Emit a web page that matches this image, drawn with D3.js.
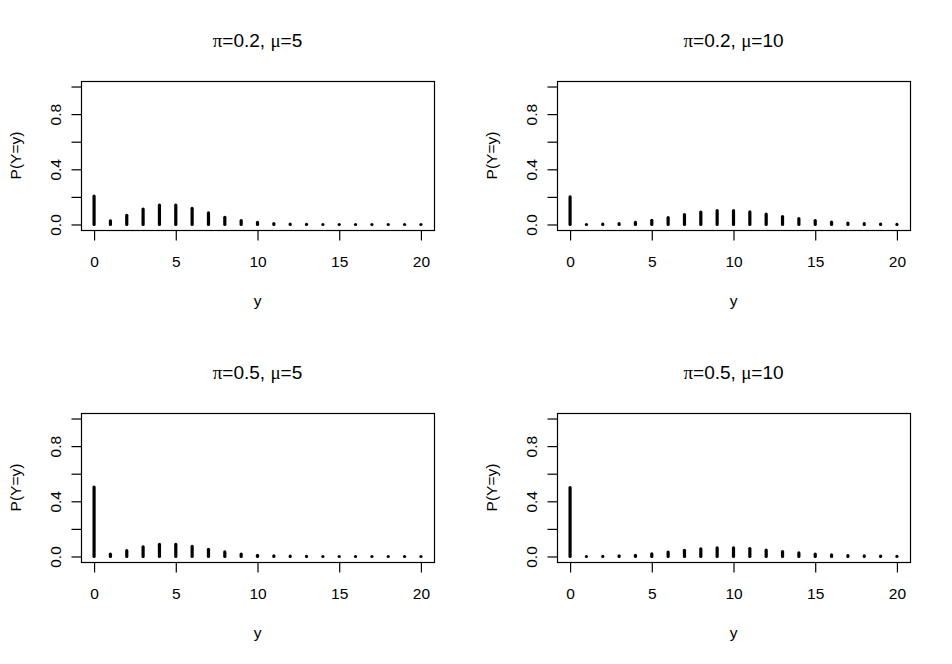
<!DOCTYPE html>
<html>
<head>
<meta charset="utf-8">
<script src="https://cdn.jsdelivr.net/npm/d3@7"></script>
<style>
  body { margin: 0; background: #fff; }
  text { font-family: "Liberation Sans", Arial, sans-serif; fill: #000; }
</style>
</head>
<body>
<svg id="chart" width="952" height="664"></svg>
<script>
// counts on the x axis
const counts = [0, 1, 2, 3, 4, 5, 6, 7, 8, 9, 10, 11, 12, 13, 14, 15, 16, 17, 18, 19, 20];

// panel parameters (row by row)
const piLabels = ["0.2", "0.2", "0.5", "0.5"];
const muLabels = ["5", "10", "5", "10"];

// probabilities
const pi02mu5  = [0.205, 0.027, 0.067, 0.112, 0.140, 0.140, 0.117, 0.084, 0.052, 0.029, 0.015, 0.007, 0.003, 0.001, 0.000, 0.000, 0.000, 0.000, 0.000, 0.000, 0.000];
const pi02mu10 = [0.200, 0.000, 0.002, 0.006, 0.015, 0.030, 0.050, 0.072, 0.090, 0.100, 0.100, 0.091, 0.076, 0.058, 0.042, 0.028, 0.017, 0.010, 0.006, 0.003, 0.001];
const pi05mu5  = [0.503, 0.017, 0.042, 0.070, 0.088, 0.088, 0.073, 0.052, 0.033, 0.018, 0.009, 0.004, 0.002, 0.001, 0.000, 0.000, 0.000, 0.000, 0.000, 0.000, 0.000];
const pi05mu10 = [0.500, 0.000, 0.001, 0.004, 0.009, 0.019, 0.032, 0.045, 0.056, 0.063, 0.063, 0.057, 0.047, 0.036, 0.026, 0.017, 0.011, 0.006, 0.004, 0.002, 0.001];

const xTicks = [0, 5, 10, 15, 20];
const yTicks = [0, 0.2, 0.4, 0.6, 0.8, 1.0];
const yTickLabels = ["0.0", "", "0.4", "", "0.8", ""];

const series = [pi02mu5, pi02mu10, pi05mu5, pi05mu10];

const cellW = 476, cellH = 332;
const margin = {left: 81, top: 81, right: 42, bottom: 102};
const w = cellW - margin.left - margin.right;
const h = cellH - margin.top - margin.bottom;

// R style: 4% padding around the data range
const x = d3.scaleLinear().domain([-0.8, 20.8]).range([0, w]);
const y = d3.scaleLinear().domain([-0.04, 1.04]).range([h, 0]);

const svg = d3.select("#chart");
const labelSize = "15.5px";

series.forEach((vals, i) => {
  const col = i % 2, row = Math.floor(i / 2);
  const g = svg.append("g")
    .attr("transform", `translate(${col * cellW + margin.left},${row * cellH + margin.top})`);

  // spikes (type = "h")
  g.selectAll("line.spike")
    .data(counts.map((c, j) => ({c, p: vals[j]})))
    .join("line")
    .attr("class", "spike")
    .attr("x1", d => x(d.c)).attr("x2", d => x(d.c))
    .attr("y1", y(0)).attr("y2", d => y(d.p))
    .attr("stroke", "#000")
    .attr("stroke-width", 3.2)
    .attr("stroke-linecap", "round");

  // box
  g.append("rect")
    .attr("x", 0.5).attr("y", 0.5)
    .attr("width", w).attr("height", h)
    .attr("fill", "none").attr("stroke", "#000").attr("stroke-width", 1.2);

  // x axis
  const xa = g.append("g").attr("transform", `translate(0,${h + 0.5})`)
    .call(d3.axisBottom(x).tickValues(xTicks).tickSize(10).tickSizeOuter(0).tickFormat(d3.format("d")));
  xa.select(".domain").remove();
  xa.selectAll(".tick line").attr("stroke", "#000").attr("stroke-width", 1.2);
  xa.selectAll(".tick text")
    .attr("y", 25).attr("dy", "0.71em")
    .style("font-size", labelSize).style("font-family", "Liberation Sans, Arial, sans-serif");

  // y axis
  const ya = g.append("g").attr("transform", "translate(0.5,0)")
    .call(d3.axisLeft(y).tickValues(yTicks).tickSize(10).tickSizeOuter(0)
      .tickFormat((d, k) => yTickLabels[k]));
  ya.select(".domain").remove();
  ya.selectAll(".tick line").attr("stroke", "#000").attr("stroke-width", 1.2);
  ya.selectAll(".tick text")
    .attr("x", null).attr("dy", null)
    .attr("text-anchor", "middle")
    .attr("transform", "translate(-21,0) rotate(-90)")
    .style("font-size", labelSize).style("font-family", "Liberation Sans, Arial, sans-serif");

  // axis titles
  g.append("text")
    .attr("x", w / 2).attr("y", h + 76)
    .attr("text-anchor", "middle")
    .style("font-size", labelSize)
    .text("y");

  g.append("text")
    .attr("transform", `translate(-60,${h / 2}) rotate(-90)`)
    .attr("text-anchor", "middle")
    .style("font-size", labelSize)
    .text("P(Y=y)");

  // title with greek symbols
  const t = g.append("text")
    .attr("x", w / 2).attr("y", -34)
    .attr("text-anchor", "middle")
    .style("font-size", "19px");
  t.append("tspan").style("font-family", "Liberation Serif, serif").text("\u03C0");
  t.append("tspan").text(`=${piLabels[i]}, `);
  t.append("tspan").style("font-family", "Liberation Serif, serif").text("\u03BC");
  t.append("tspan").text(`=${muLabels[i]}`);
});
</script>
</body>
</html>
